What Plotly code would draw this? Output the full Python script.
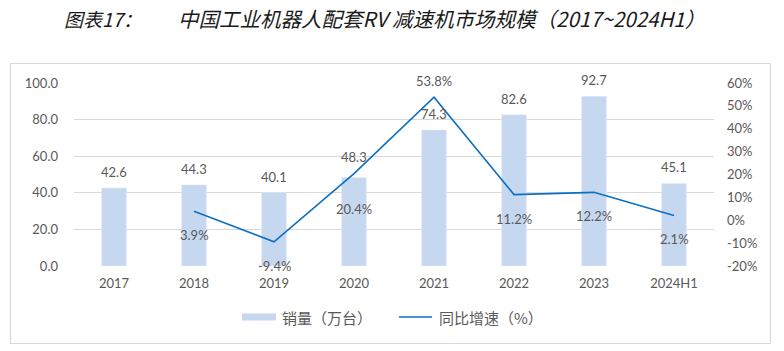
import plotly.graph_objects as go

categories = ["2017", "2018", "2019", "2020", "2021", "2022", "2023", "2024H1"]
sales = [42.6, 44.3, 40.1, 48.3, 74.3, 82.6, 92.7, 45.1]
growth_categories = ["2018", "2019", "2020", "2021", "2022", "2023", "2024H1"]
growth = [3.9, -9.4, 20.4, 53.8, 11.2, 12.2, 2.1]
left_ticks = [0, 20, 40, 60, 80, 100]
right_ticks = [-20, -10, 0, 10, 20, 30, 40, 50, 60]

W, H = 784, 351
L, R, T, B = 74, 70, 83, 85
PW, PH = W - L - R, H - T - B


def px(x):
    return (x - L) / PW


def py(y):
    return (H - B - y) / PH


def cat_index(c):
    return categories.index(c)


BAR_COLOR = "#c6d8ef"
LINE_COLOR = "#0c6fc0"
TXT = "#595959"
NUMFONT = "Lato, 'DejaVu Sans', sans-serif"
CJK = "'Noto Sans CJK SC', sans-serif"

fig = go.Figure()
fig.add_trace(go.Bar(x=categories, y=sales, marker_color=BAR_COLOR, width=0.31,
                     name="销量（万台）", yaxis="y"))
fig.add_trace(go.Scatter(x=growth_categories, y=growth, mode="lines",
                         line=dict(color=LINE_COLOR, width=1.6),
                         name="同比增速（%）", yaxis="y2"))

annotations = []
# bar labels
for c, v in zip(categories, sales):
    shift = 11 if c == "2020" else 6
    annotations.append(dict(x=cat_index(c), y=v, xref="x", yref="y", text=f"{v:.1f}",
                            showarrow=False, yanchor="bottom", yshift=shift,
                            font=dict(family=NUMFONT, size=13, color=TXT)))
# line labels
for c, v in zip(growth_categories, growth):
    if c == "2021":
        ya, sh = "bottom", 6
    elif c == "2020":
        ya, sh = "top", -25
    else:
        ya, sh = "top", -14
    annotations.append(dict(x=cat_index(c), y=v, xref="x", yref="y2", text=f"{v:.1f}%",
                            showarrow=False, yanchor=ya, yshift=sh,
                            font=dict(family=NUMFONT, size=13, color=TXT)))

# title
annotations.append(dict(x=px(62), y=py(18), xref="paper", yref="paper",
                        text="<i>图表17：</i>", showarrow=False, xanchor="left",
                        yanchor="middle", font=dict(family=CJK, size=19, color="#1a1a1a")))
annotations.append(dict(x=px(176), y=py(18), xref="paper", yref="paper",
                        text="<i>中国工业机器人配套RV 减速机市场规模（2017~2024H1）</i>",
                        showarrow=False, xanchor="left", yanchor="middle",
                        font=dict(family=CJK, size=20.5, color="#1a1a1a")))

# custom legend
annotations.append(dict(x=px(280), y=py(317), xref="paper", yref="paper",
                        text="销量（万台）", showarrow=False, xanchor="left", yanchor="middle",
                        font=dict(family=CJK, size=15, color=TXT)))
annotations.append(dict(x=px(437), y=py(317), xref="paper", yref="paper",
                        text="同比增速（%）", showarrow=False, xanchor="left", yanchor="middle",
                        font=dict(family=CJK, size=15, color=TXT)))

shapes = [
    dict(type="rect", xref="paper", yref="paper", x0=px(10.5), x1=px(770.5),
         y0=py(63.5), y1=py(343.5), line=dict(color="#d9d9d9", width=1.2),
         fillcolor="rgba(0,0,0,0)", layer="below"),
    dict(type="rect", xref="paper", yref="paper", x0=px(242), x1=px(276),
         y0=py(313.5), y1=py(320.5), line=dict(width=0), fillcolor=BAR_COLOR),
    dict(type="line", xref="paper", yref="paper", x0=px(399), x1=px(432),
         y0=py(317), y1=py(317), line=dict(color=LINE_COLOR, width=1.6)),
]

fig.update_layout(
    width=W, height=H,
    margin=dict(l=L, r=R, t=T, b=B),
    paper_bgcolor="white", plot_bgcolor="white",
    showlegend=False,
    annotations=annotations,
    shapes=shapes,
    xaxis=dict(type="category", categoryorder="array", categoryarray=categories,
               range=[-0.5, len(categories) - 0.5], autorange=False,
               showgrid=False, showline=False, zeroline=False, ticks="",
               tickfont=dict(family=NUMFONT, size=13, color=TXT),
               ticklabelstandoff=8),
    yaxis=dict(range=[0, 100], autorange=False, tickvals=left_ticks,
               ticktext=[f"{v:.1f}" for v in left_ticks],
               showgrid=True, gridcolor="#d9d9d9", gridwidth=1, zeroline=False,
               showline=False, ticks="",
               tickfont=dict(family=NUMFONT, size=13, color=TXT),
               ticklabelstandoff=15),
    yaxis2=dict(range=[-20, 60], autorange=False, tickvals=right_ticks,
                ticktext=[f"{v}%" for v in right_ticks],
                overlaying="y", side="right", showgrid=False, zeroline=False,
                showline=False, ticks="",
                tickfont=dict(family=NUMFONT, size=13, color=TXT),
                ticklabelstandoff=12),
)

fig.write_html("out.html")
